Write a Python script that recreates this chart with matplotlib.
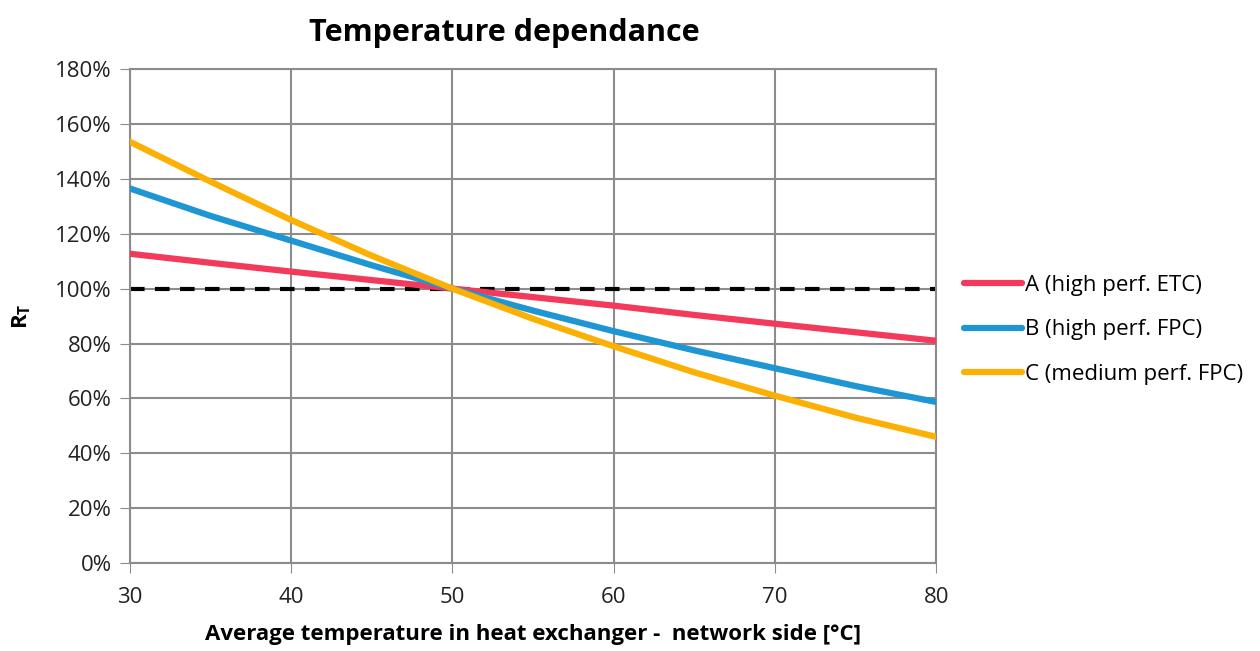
import matplotlib
matplotlib.use("Agg")
import matplotlib.pyplot as plt
from matplotlib.ticker import FuncFormatter

plt.rcParams['font.family'] = ['Open Sans', 'DejaVu Sans']

# data (R_T in %)
temps = [30, 35, 40, 45, 50, 55, 60, 65, 70, 75, 80]
rt_a = [112.7, 109.4, 106.2, 103.1, 100, 96.9, 93.8, 90.4, 87.2, 84.1, 81.0]
rt_b = [136.5, 126.5, 117.5, 108.5, 100, 92.0, 84.5, 77.5, 71.0, 64.5, 58.7]
rt_c = [153.5, 139.0, 125.0, 112.0, 100, 89.0, 79.0, 69.5, 61.0, 53.0, 46.0]
labels = ["A (high perf. ETC)", "B (high perf. FPC)", "C (medium perf. FPC)"]
colors = ["#F33A5B", "#1E96D4", "#FBB003"]
ref_level = 100

fig = plt.figure(figsize=(12.6, 6.51), dpi=100)
ax = fig.add_axes([0.103, 0.135, 0.640, 0.759])

ax.axhline(ref_level, color="black", lw=3, ls=(0, (3.5, 2.5)), zorder=2)
for ys, lab, c in zip([rt_a, rt_b, rt_c], labels, colors):
    ax.plot(temps, ys, color=c, lw=4.5, label=lab, zorder=3, solid_capstyle="round")

ax.set_xlim(30, 80)
ax.set_ylim(0, 180)
ax.set_xticks(range(30, 81, 10))
ax.set_yticks(range(0, 181, 20))
ax.yaxis.set_major_formatter(FuncFormatter(lambda v, p: "%d%%" % v))
ax.grid(True, color="#8c8c8c", lw=1.5)
ax.tick_params(labelsize=16, length=7, color="#8c8c8c", colors="#222222")
ax.tick_params(axis="x", pad=10)
ax.tick_params(axis="y", pad=6)
for s in ax.spines.values():
    s.set_color("#8c8c8c")
    s.set_linewidth(1.5)

ax.set_title("Temperature dependance", fontsize=22, fontweight="bold", pad=20, x=0.465)
ax.set_xlabel("Average temperature in heat exchanger -  network side [°C]",
              fontsize=16, fontweight="bold", labelpad=12)
ax.set_ylabel("R$_\\mathregular{T}$", fontsize=16, fontweight="bold", labelpad=16)

leg = ax.legend(loc="center left", bbox_to_anchor=(1.01, 0.472), frameon=False,
                fontsize=16, handlelength=2.6, handletextpad=0.15, labelspacing=1.05)

fig.savefig("out.png", dpi=100)
